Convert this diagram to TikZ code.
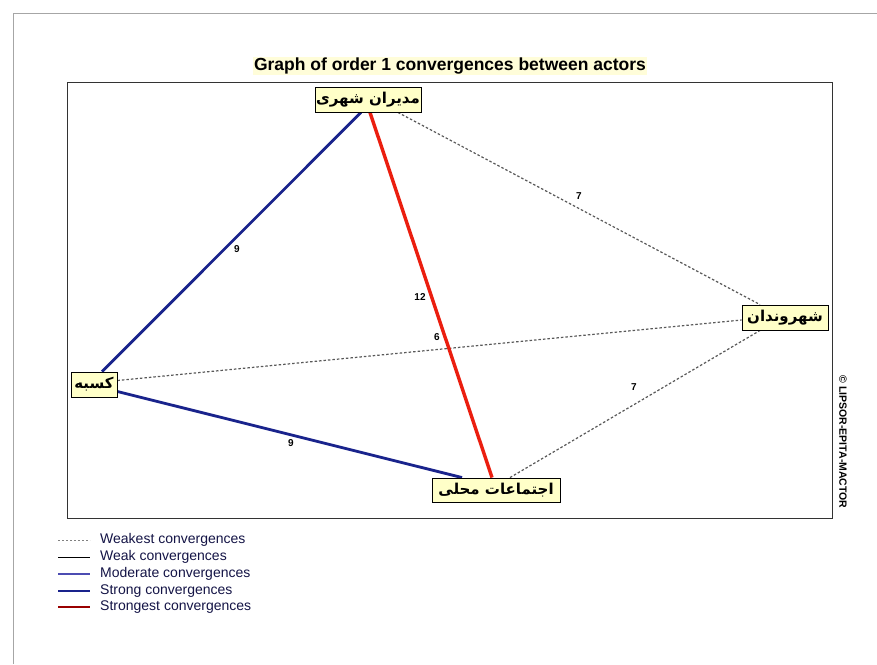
\documentclass[tikz,border=0pt]{standalone}
\usepackage{fontspec}
\setmainfont{Liberation Sans}
\newfontfamily\arabicfont[Script=Arabic]{DejaVu Sans}
\TeXXeTstate=1
\pgfdeclarelayer{bg}
\pgfdeclarelayer{edges}
\pgfsetlayers{bg,edges,main}
\definecolor{navyedge}{RGB}{25,35,140}
\definecolor{rededge}{RGB}{235,30,15}
\definecolor{nodefill}{RGB}{255,255,200}
\definecolor{legtext}{RGB}{20,20,70}
\tikzset{
  actor/.style={draw=black, line width=0.9pt, fill=nodefill, inner sep=0pt, font=\arabicfont\bfseries\fontsize{15}{17}\selectfont},
  strongedge/.style={draw=navyedge, line width=2.8pt},
  strongestedge/.style={draw=rededge, line width=3.4pt},
  weakestedge/.style={draw=gray!70!black, line width=1.2pt, dash pattern=on 2.5pt off 2pt},
  elabel/.style={font=\bfseries\fontsize{10}{11}\selectfont, fill=white, fill opacity=0.6, text opacity=1, inner sep=1pt},
  legtxt/.style={anchor=west, inner sep=0pt, text=legtext, font=\fontsize{14}{15}\selectfont},
}
\begin{document}
\begin{tikzpicture}[x=1pt,y=-1pt]
\useasboundingbox (0,0) rectangle (877,664);
\begin{pgfonlayer}{bg}
\fill[white] (0,0) rectangle (877,664);
\draw[gray!70, line width=0.8pt] (13,664) -- (13,13) -- (877,13);
\draw[black!80, line width=0.9pt] (67,82) rectangle (832,518);
\end{pgfonlayer}
% title
\node[font=\bfseries\fontsize{17.5}{19}\selectfont, fill=yellow!15, inner sep=1pt] (title) at (450,66) {Graph of order 1 convergences between actors};
% actors
\node[actor, minimum width=106, minimum height=25] (mgr) at (368,99.5) {\beginR مدیران شهری\endR};
\node[actor, minimum width=86, minimum height=25] (cit) at (785,317.5) {\beginR شهروندان\endR};
\node[actor, minimum width=46, minimum height=25] (kas) at (94,384.5) {\beginR کسبه\endR};
\node[actor, minimum width=128, minimum height=24] (loc) at (496,490) {\beginR اجتماعات محلی\endR};
% edges
\begin{pgfonlayer}{edges}
\draw[weakestedge] ([xshift=30]mgr.south) -- ([xshift=-25]cit.north);
\draw[weakestedge] ([yshift=4]kas.east) -- ([yshift=-2.5]cit.west);
\draw[weakestedge] ([xshift=14]loc.north) -- ([xshift=-25]cit.south);
\draw[strongedge] ([xshift=-7]mgr.south) -- ([xshift=8]kas.north);
\draw[strongedge] ([yshift=-7]kas.east) -- ([xshift=-34]loc.north);
\draw[strongestedge] ([xshift=2]mgr.south) -- ([xshift=-4]loc.north);
\end{pgfonlayer}
% edge labels
\node[elabel] (l1) at (237,249) {9};
\node[elabel] (l2) at (420,297) {12};
\node[elabel] (l3) at (437,337) {6};
\node[elabel] (l4) at (579,196) {7};
\node[elabel] (l5) at (634,387) {7};
\node[elabel] (l6) at (291,443) {9};
% copyright
\node[rotate=-90, font=\bfseries\fontsize{10.5}{12}\selectfont, inner sep=0pt] (copy) at (843,442) {\textcopyright\ LIPSOR-EPITA-MACTOR};
% legend
\coordinate (g1a) at (58,540); \coordinate (g1b) at (90,540);
\coordinate (g2a) at (58,557); \coordinate (g2b) at (90,557);
\coordinate (g3a) at (58,574); \coordinate (g3b) at (90,574);
\coordinate (g4a) at (58,591); \coordinate (g4b) at (90,591);
\coordinate (g5a) at (58,607); \coordinate (g5b) at (90,607);
\draw[gray, line width=0.8pt, dash pattern=on 2pt off 2pt] (g1a) -- (g1b);
\draw[black, line width=0.8pt] (g2a) -- (g2b);
\draw[blue!40!gray, line width=1.2pt] (g3a) -- (g3b);
\draw[navyedge, line width=2.6pt] (g4a) -- (g4b);
\draw[red!60!black, line width=2.6pt] (g5a) -- (g5b);
\node[legtxt] (t1) at (100,540) {Weakest convergences};
\node[legtxt] (t2) at (100,557) {Weak convergences};
\node[legtxt] (t3) at (100,574) {Moderate convergences};
\node[legtxt] (t4) at (100,591) {Strong convergences};
\node[legtxt] (t5) at (100,607) {Strongest convergences};
\end{tikzpicture}
\end{document}
